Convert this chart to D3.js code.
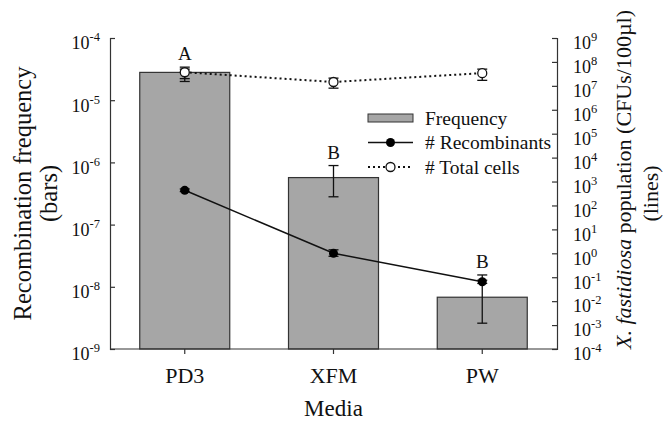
<!DOCTYPE html>
<html>
<head>
<meta charset="utf-8">
<script src="https://cdn.jsdelivr.net/npm/d3@7"></script>
<style>
body { margin: 0; background: #fff; }
text { font-family: "Liberation Serif", "Times New Roman", serif; fill: #111; }
</style>
</head>
<body>
<script>
// values
var media = ["PD3", "XFM", "PW"];
var freq = [2.8e-5, 5.7e-7, 6.8e-9];
var freqLo = [2.0e-5, 2.8e-7, 2.6e-9];
var freqHi = [3.4e-5, 8.9e-7, 1.55e-8];
var letters = ["A", "B", "B"];
var recomb = [430, 1.0, 0.065];
var recombLo = [380, 0.75, 0.055];
var recombHi = [490, 1.4, 0.075];
var total = [3.7e7, 1.45e7, 3.4e7];
var totalLo = [2.0e7, 8.0e6, 1.7e7];
var totalHi = [5.0e7, 2.1e7, 5.0e7];
var leftTicks = [-9, -8, -7, -6, -5, -4];
var rightTicks = [-4, -3, -2, -1, 0, 1, 2, 3, 4, 5, 6, 7, 8, 9];

var W = 664, H = 422;
var pLeft = 110, pRight = 557, pTop = 38, pBottom = 349;

var svg = d3.select("body").append("svg")
    .attr("width", W).attr("height", H);

var x = d3.scaleBand().domain(media).range([pLeft, pRight])
    .paddingInner(0.395).paddingOuter(0.2);
var yL = d3.scaleLog().domain([1e-9, 1e-4]).range([pBottom, pTop]);
var yR = d3.scaleLog().domain([1e-4, 1e9]).range([pBottom, pTop]);
var cx = function(m) { return x(m) + x.bandwidth() / 2; };

// bars
svg.selectAll("rect.bar").data(media).enter().append("rect")
    .attr("class", "bar")
    .attr("x", function(d) { return x(d); })
    .attr("width", x.bandwidth())
    .attr("y", function(d, i) { return yL(freq[i]); })
    .attr("height", function(d, i) { return pBottom - yL(freq[i]); })
    .style("fill", "#a6a6a6").style("stroke", "#333").style("stroke-width", 1.2);

function errBars(lo, hi, scale, w) {
    media.forEach(function(m, i) {
        var g = svg.append("g").style("stroke", "#111").style("stroke-width", 1.3);
        g.append("line").attr("x1", cx(m)).attr("x2", cx(m))
            .attr("y1", scale(lo[i])).attr("y2", scale(hi[i]));
        [lo[i], hi[i]].forEach(function(v) {
            g.append("line").attr("x1", cx(m) - w).attr("x2", cx(m) + w)
                .attr("y1", scale(v)).attr("y2", scale(v));
        });
    });
}
errBars(freqLo, freqHi, yL, 5);

// letters
svg.selectAll("text.let").data(letters).enter().append("text")
    .attr("x", function(d, i) { return cx(media[i]); })
    .attr("y", function(d, i) { return yL(freqHi[i]) - 7; })
    .attr("text-anchor", "middle").style("font-size", "19px")
    .text(function(d) { return d; });

// lines
var lineR = function(vals) {
    return d3.line().x(function(d, i) { return cx(media[i]); })
        .y(function(d) { return yR(d); })(vals);
};
svg.append("path").attr("d", lineR(total))
    .style("fill", "none").style("stroke", "#111").style("stroke-width", 2)
    .style("stroke-dasharray", "2,3");
errBars(totalLo, totalHi, yR, 5);
svg.selectAll("circle.tot").data(total).enter().append("circle")
    .attr("cx", function(d, i) { return cx(media[i]); })
    .attr("cy", function(d) { return yR(d); })
    .attr("r", 4.5).style("fill", "#fff").style("stroke", "#111").style("stroke-width", 1.3);

svg.append("path").attr("d", lineR(recomb))
    .style("fill", "none").style("stroke", "#111").style("stroke-width", 1.5);
errBars(recombLo, recombHi, yR, 5);
svg.selectAll("circle.rec").data(recomb).enter().append("circle")
    .attr("cx", function(d, i) { return cx(media[i]); })
    .attr("cy", function(d) { return yR(d); })
    .attr("r", 4.5).style("fill", "#000");

// axes
function supLabel(sel, p) {
    sel.text("");
    sel.append("tspan").text("10");
    sel.append("tspan").attr("dy", -8).style("font-size", "12.5px").text(p);
}
var axL = svg.append("g").attr("transform", "translate(" + pLeft + ",0)")
    .call(d3.axisLeft(yL).tickValues(leftTicks.map(function(p) { return Math.pow(10, p); }))
        .tickSize(-5).tickPadding(10));
axL.selectAll("text").style("font-size", "18px").attr("dy", "0.6em")
    .each(function(d) { supLabel(d3.select(this), String(Math.round(Math.log10(d)))); });

var axR = svg.append("g").attr("transform", "translate(" + pRight + ",0)")
    .call(d3.axisRight(yR).tickValues(rightTicks.map(function(p) { return Math.pow(10, p); }))
        .tickSize(-5).tickPadding(16));
axR.selectAll("text").style("font-size", "18px").attr("dy", "0.6em")
    .each(function(d) { supLabel(d3.select(this), String(Math.round(Math.log10(d)))); });

var axX = svg.append("g").attr("transform", "translate(0," + pBottom + ")")
    .call(d3.axisBottom(x).tickSize(5).tickPadding(13));
axX.select(".domain").attr("d", "M" + pLeft + ",0H" + pRight);
axX.selectAll("text").style("font-size", "22px");

svg.selectAll(".domain, .tick line").style("stroke", "#333").style("stroke-width", 1.2);

// titles
svg.append("text").attr("x", (pLeft + pRight) / 2).attr("y", 416)
    .attr("text-anchor", "middle").style("font-size", "23px").text("Media");
var midY = (pTop + pBottom) / 2;
svg.append("text").attr("transform", "translate(31," + midY + ") rotate(-90)")
    .attr("text-anchor", "middle").style("font-size", "24.5px").text("Recombination frequency");
svg.append("text").attr("transform", "translate(57," + midY + ") rotate(-90)")
    .attr("text-anchor", "middle").style("font-size", "24.5px").text("(bars)");
var rt = svg.append("text").attr("transform", "translate(631," + (midY - 14) + ") rotate(-90)")
    .attr("text-anchor", "middle").style("font-size", "22px");
rt.append("tspan").style("font-style", "italic").text("X. fastidiosa");
rt.append("tspan").text(" population (CFUs/100µl)");
svg.append("text").attr("transform", "translate(658," + midY + ") rotate(-90)")
    .attr("text-anchor", "middle").style("font-size", "22px").text("(lines)");

// legend
var lg = svg.append("g").attr("transform", "translate(368,118)");
lg.append("rect").attr("x", 0).attr("y", -4).attr("width", 45).attr("height", 8)
    .style("fill", "#a6a6a6").style("stroke", "#333");
lg.append("line").attr("x1", 0).attr("x2", 45).attr("y1", 24.5).attr("y2", 24.5)
    .style("stroke", "#111").style("stroke-width", 1.5);
lg.append("circle").attr("cx", 22.5).attr("cy", 24.5).attr("r", 4.5).style("fill", "#000");
lg.append("line").attr("x1", 0).attr("x2", 45).attr("y1", 49).attr("y2", 49)
    .style("stroke", "#111").style("stroke-width", 2).style("stroke-dasharray", "2,3");
lg.append("circle").attr("cx", 22.5).attr("cy", 49).attr("r", 4.5)
    .style("fill", "#fff").style("stroke", "#111").style("stroke-width", 1.3);
["Frequency", "# Recombinants", "# Total cells"].forEach(function(t, i) {
    lg.append("text").attr("x", 57).attr("y", i * 24.5).attr("dy", "0.35em")
        .style("font-size", "19.5px").text(t);
});
</script>
</body>
</html>
